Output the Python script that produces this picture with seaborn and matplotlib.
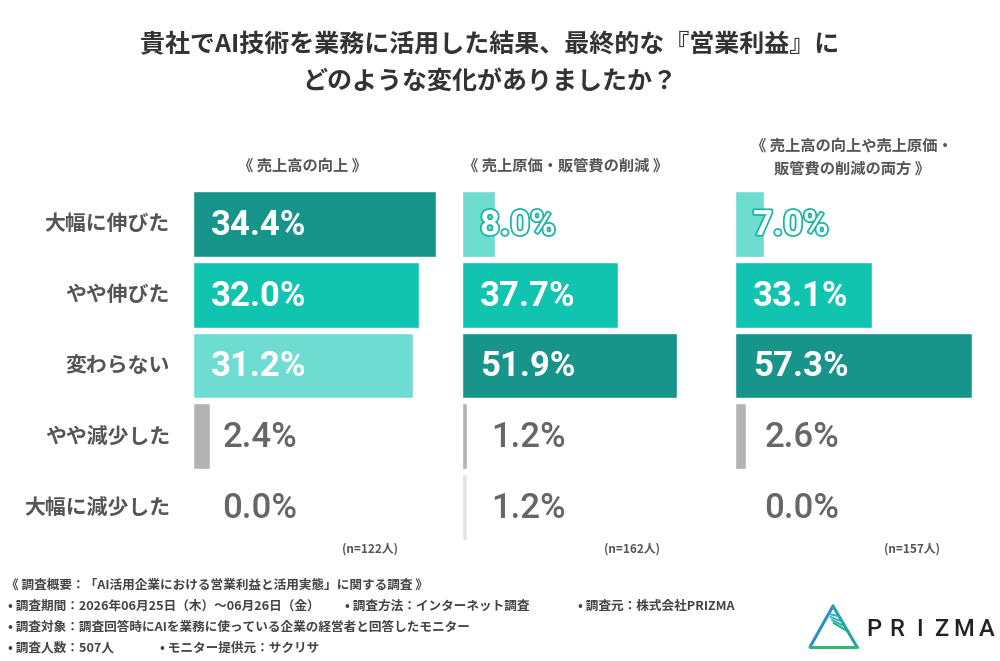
import matplotlib
matplotlib.use("Agg")
import matplotlib.pyplot as plt
import matplotlib.patheffects as pe
import seaborn as sns

sns.set_style("white")
plt.rcParams["font.family"] = ["Noto Sans CJK JP", "DejaVu Sans"]

# データ
categories = ["大幅に伸びた", "やや伸びた", "変わらない", "やや減少した", "大幅に減少した"]
panel_titles = ["《 売上高の向上 》", "《 売上原価・販管費の削減 》", "《 売上高の向上や売上原価・\n販管費の削減の両方 》"]
sales_up = [34.4, 32.0, 31.2, 2.4, 0.0]
cost_down = [8.0, 37.7, 51.9, 1.2, 1.2]
both = [7.0, 33.1, 57.3, 2.6, 0.0]
n_labels = ["(n=122人)", "(n=162人)", "(n=157人)"]

DARK = "#17958b"
MID = "#10c4b0"
LIGHT = "#6edcd1"
GRAY = "#b3b3b3"
PALE = "#e4e4e4"
panel_colors = [
    [DARK, MID, LIGHT, GRAY, GRAY],
    [LIGHT, MID, DARK, GRAY, PALE],
    [LIGHT, MID, DARK, GRAY, GRAY],
]

W, H = 1000, 661
fig = plt.figure(figsize=(10, 6.61), dpi=100)

# 全体の文字用の背景軸(ピクセル座標)
bg = fig.add_axes([0, 0, 1, 1], zorder=0)
bg.set_xlim(0, W)
bg.set_ylim(H, 0)
bg.axis("off")

# 各パネルの配置: 左端px, 幅px, 1%あたりのpx
panels = [
    (sales_up, 193, 250, 7.06),
    (cost_down, 462, 230, 4.14),
    (both, 735, 240, 4.14),
]
top_px, bottom_px = 188.6, 542.4
value_font = ["Roboto", "DejaVu Sans"]

for i, (vals, left, width, ppp) in enumerate(panels):
    ax = fig.add_axes([left / W, 1 - bottom_px / H, width / W, (bottom_px - top_px) / H], zorder=2)
    ax.patch.set_alpha(0)
    sns.barplot(x=vals, y=categories, hue=categories, palette=panel_colors[i],
                orient="h", width=0.93, legend=False, ax=ax, saturation=1)
    ax.set_xlim(0, width / ppp)
    ax.set_ylim(4.5, -0.5)
    ax.axis("off")
    for j, v in enumerate(vals):
        txt = f"{v:.1f}%"
        if j < 3:
            effects = None
            if v < 10:
                effects = [pe.withStroke(linewidth=2.5, foreground="#19b3a4")]
            ax.annotate(txt, xy=(0, j), xytext=(13, -1), textcoords="offset points",
                        ha="left", va="center", fontsize=25, fontweight="bold",
                        color="white", family=value_font, path_effects=effects)
        else:
            ax.annotate(txt, xy=(0, j), xytext=(21, -1), textcoords="offset points",
                        ha="left", va="center", fontsize=25, fontweight="medium",
                        color="#666666", family=value_font)

# タイトル
bg.text(490, 45, "貴社でAI技術を業務に活用した結果、最終的な『営業利益』に",
        ha="center", va="center", fontsize=18, fontweight="bold", color="#333333")
bg.text(490, 82, "どのような変化がありましたか？",
        ha="center", va="center", fontsize=18, fontweight="bold", color="#333333")

# パネル見出し
bg.text(302, 166, panel_titles[0], ha="center", va="center", fontsize=11, fontweight="bold", color="#555555")
bg.text(566, 166, panel_titles[1], ha="center", va="center", fontsize=11, fontweight="bold", color="#555555")
bg.text(852, 157, panel_titles[2], ha="center", va="center", fontsize=11, fontweight="bold",
        color="#555555", linespacing=1.5)

# 行ラベル
for j, cat in enumerate(categories):
    bg.text(170, 224 + j * 70.75, cat, ha="right", va="center", fontsize=15,
            fontweight="bold", color="#555555")

# n数
for x, lab in zip([370, 632, 912], n_labels):
    bg.text(x, 549, lab, ha="center", va="center", fontsize=8.5, fontweight="bold", color="#555555")

# 脚注
foot = dict(ha="left", va="center", fontsize=9.1, fontweight="bold", color="#444444")
bg.text(6, 585, "《 調査概要：「AI活用企業における営業利益と活用実態」に関する調査 》", **foot)
bg.text(8, 606, "• 調査期間：2026年06月25日（木）～06月26日（金）", **foot)
bg.text(345, 606, "• 調査方法：インターネット調査", **foot)
bg.text(578, 606, "• 調査元：株式会社PRIZMA", **foot)
bg.text(8, 627, "• 調査対象：調査回答時にAIを業務に使っている企業の経営者と回答したモニター", **foot)
bg.text(8, 648, "• 調査人数：507人", **foot)
bg.text(160, 648, "• モニター提供元：サクリサ", **foot)

# ロゴ
apex, bl, br = (833, 606), (810, 647), (857, 647)
bg.plot([bl[0], apex[0]], [bl[1], apex[1]], color="#2a8fc4", lw=2.2, solid_capstyle="round")
bg.plot([apex[0], br[0]], [apex[1], br[1]], color="#22a6a0", lw=2.2, solid_capstyle="round")
bg.plot([bl[0], br[0]], [bl[1], br[1]], color="#34b87a", lw=2.2, solid_capstyle="round")
for k, t in enumerate([0.25, 0.38, 0.5, 0.62]):
    px = apex[0] + (br[0] - apex[0]) * t
    py = apex[1] + (br[1] - apex[1]) * t
    bg.plot([apex[0] - 4 + k * 1.5, px], [apex[1] + 8 + k * 3, py],
            color=["#3aa3d6", "#2fb1b8", "#25b49a", "#1fa88a"][k], lw=1.4)
for k, ch in enumerate("PRIZMA"):
    bg.text(874 + k * 22.5, 630, ch, ha="center", va="center", fontsize=17,
            fontweight="medium", color="#222222", family=["Roboto", "DejaVu Sans"])

fig.savefig("out.png", dpi=100)
